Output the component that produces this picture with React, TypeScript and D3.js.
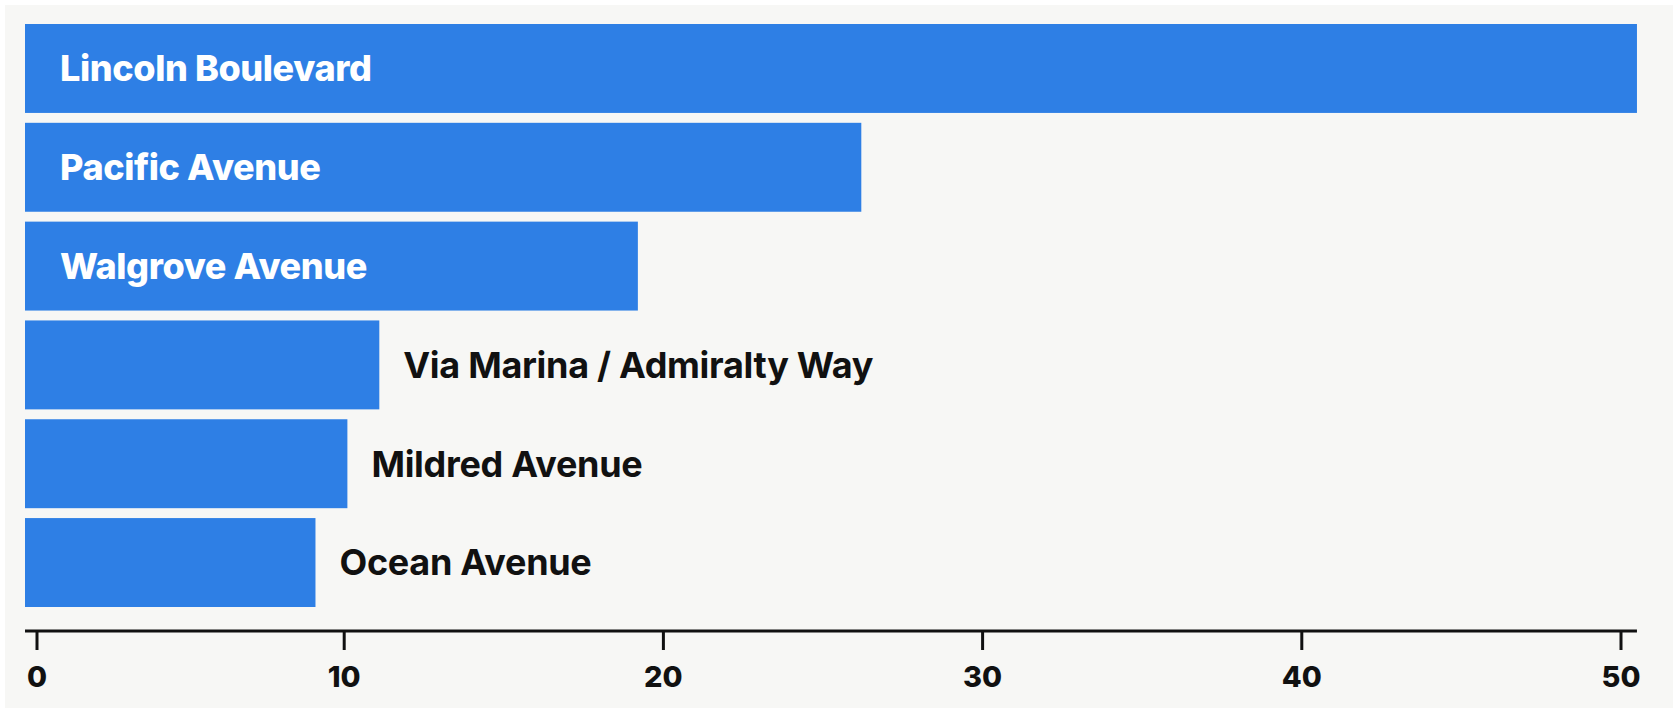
import * as d3 from 'd3';

const streets = [
  'Lincoln Boulevard',
  'Pacific Avenue',
  'Walgrove Avenue',
  'Via Marina / Admiralty Way',
  'Mildred Avenue',
  'Ocean Avenue',
];
const values = [50.5, 26.2, 19.2, 11.1, 10.1, 9.1];
const tickValues = [0, 10, 20, 30, 40, 50];

const WIDTH = 1673;
const HEIGHT = 708;
const BAR_COLOR = '#2e7fe5';
const BG = '#f7f7f5';
const INK = '#111111';
const FONT = "Inter, Roboto, 'Noto Sans', sans-serif";
// labels go inside the bar when the bar is long enough
const INSIDE_MIN = 15;
const FIRST_TICK_NUDGE = 12;

export default function App() {
  const x = d3.scaleLinear().domain([0, 50]).range([25, 1621]);
  const y = d3.scaleBand<string>().domain(streets).range([24, 607]).paddingInner(0.1).paddingOuter(0);
  const axisY = 631;
  const maxX = x(d3.max(values) ?? 50);

  return (
    <svg
      width={WIDTH}
      height={HEIGHT}
      style={{ position: 'absolute', left: 0, top: 0, display: 'block' }}
    >
      <rect x={0} y={0} width={WIDTH} height={HEIGHT} fill="#ffffff" />
      <rect x={5} y={5} width={WIDTH - 5} height={HEIGHT - 5} fill={BG} />

      {streets.map((s, i) => {
        const v = values[i];
        const y0 = y(s)!;
        const cy = y0 + y.bandwidth() / 2;
        const inside = v >= INSIDE_MIN;
        return (
          <g key={s}>
            <rect x={x(0)} y={y0} width={x(v) - x(0)} height={y.bandwidth()} fill={BAR_COLOR} />
            <text
              x={inside ? x(0) + 35 : x(v) + 24}
              y={cy}
              dy="0.36em"
              fill={inside ? '#ffffff' : INK}
              fontFamily={FONT}
              fontWeight={inside ? 800 : 700}
              fontSize={36}
              letterSpacing={inside ? -0.4 : -0.3}
            >
              {s}
            </text>
          </g>
        );
      })}

      <line x1={x(0)} x2={maxX} y1={axisY} y2={axisY} stroke={INK} strokeWidth={3} />
      {tickValues.map((t, i) => {
        const tx = x(t) + (i === 0 ? FIRST_TICK_NUDGE : 0);
        return (
          <g key={t} transform={`translate(${tx},0)`}>
            <line y1={axisY} y2={axisY + 19} stroke={INK} strokeWidth={3} />
            <text
              y={687}
              textAnchor="middle"
              fill={INK}
              fontFamily={FONT}
              fontWeight={800}
              fontSize={29}
            >
              {t}
            </text>
          </g>
        );
      })}
    </svg>
  );
}
